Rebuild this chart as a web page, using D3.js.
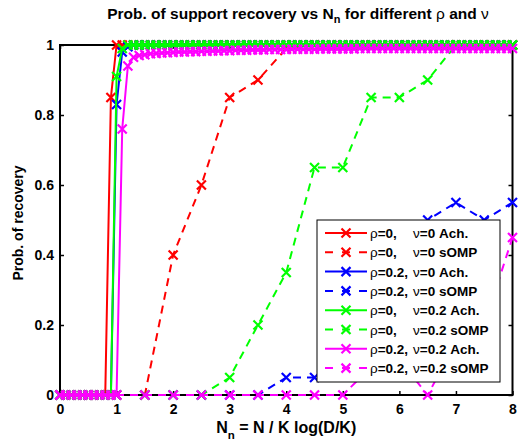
<!DOCTYPE html>
<html>
<head>
<meta charset="utf-8">
<script src="https://cdn.jsdelivr.net/npm/d3@7"></script>
<style>
  body { margin: 0; background: #fff; }
  svg { display: block; font-family: "Liberation Sans", Arial, sans-serif; }
  .tick text { font-weight: bold; font-size: 14px; fill: #000; }
  .tick line { stroke: #000; stroke-width: 1.5; }
</style>
</head>
<body>
<svg id="chart" width="518" height="443"></svg>
<script>
// x grid of the "Ach." curves (step 0.1) and of the sOMP curves (step 0.5)
const xAch = [
  0, 0.1, 0.2, 0.3, 0.4, 0.5, 0.6, 0.7, 0.8, 0.9,
  1, 1.1, 1.2, 1.3, 1.4, 1.5, 1.6, 1.7, 1.8, 1.9,
  2, 2.1, 2.2, 2.3, 2.4, 2.5, 2.6, 2.7, 2.8, 2.9,
  3, 3.1, 3.2, 3.3, 3.4, 3.5, 3.6, 3.7, 3.8, 3.9,
  4, 4.1, 4.2, 4.3, 4.4, 4.5, 4.6, 4.7, 4.8, 4.9,
  5, 5.1, 5.2, 5.3, 5.4, 5.5, 5.6, 5.7, 5.8, 5.9,
  6, 6.1, 6.2, 6.3, 6.4, 6.5, 6.6, 6.7, 6.8, 6.9,
  7, 7.1, 7.2, 7.3, 7.4, 7.5, 7.6, 7.7, 7.8, 7.9,
  8,
];
const xOmp = [0, 0.5, 1, 1.5, 2, 2.5, 3, 3.5, 4, 4.5, 5, 5.5, 6, 6.5, 7, 7.5, 8];

const redAch = [
  0, 0, 0, 0, 0, 0, 0, 0, 0, 0.85,
  1, 1, 1, 1, 1, 1, 1, 1, 1, 1,
  1, 1, 1, 1, 1, 1, 1, 1, 1, 1,
  1, 1, 1, 1, 1, 1, 1, 1, 1, 1,
  1, 1, 1, 1, 1, 1, 1, 1, 1, 1,
  1, 1, 1, 1, 1, 1, 1, 1, 1, 1,
  1, 1, 1, 1, 1, 1, 1, 1, 1, 1,
  1, 1, 1, 1, 1, 1, 1, 1, 1, 1,
  1,
];
const blueAch = [
  0, 0, 0, 0, 0, 0, 0, 0, 0, 0,
  0.83, 0.98, 0.995, 1, 1, 1, 1, 1, 1, 1,
  1, 1, 1, 1, 1, 1, 1, 1, 1, 1,
  1, 1, 1, 1, 1, 1, 1, 1, 1, 1,
  1, 1, 1, 1, 1, 1, 1, 1, 1, 1,
  1, 1, 1, 1, 1, 1, 1, 1, 1, 1,
  1, 1, 1, 1, 1, 1, 1, 1, 1, 1,
  1, 1, 1, 1, 1, 1, 1, 1, 1, 1,
  1,
];
const greenAch = [
  0, 0, 0, 0, 0, 0, 0, 0, 0, 0,
  0.91, 0.99, 1, 1, 1, 1, 1, 1, 1, 1,
  1, 1, 1, 1, 1, 1, 1, 1, 1, 1,
  1, 1, 1, 1, 1, 1, 1, 1, 1, 1,
  1, 1, 1, 1, 1, 1, 1, 1, 1, 1,
  1, 1, 1, 1, 1, 1, 1, 1, 1, 1,
  1, 1, 1, 1, 1, 1, 1, 1, 1, 1,
  1, 1, 1, 1, 1, 1, 1, 1, 1, 1,
  1,
];
const magentaAch = [
  0, 0, 0, 0, 0, 0, 0, 0, 0, 0,
  0, 0.76, 0.94, 0.965, 0.97, 0.972, 0.975, 0.976, 0.977, 0.978,
  0.979, 0.98, 0.98, 0.981, 0.981, 0.982, 0.982, 0.983, 0.983, 0.984,
  0.984, 0.985, 0.985, 0.985, 0.986, 0.986, 0.986, 0.987, 0.987, 0.987,
  0.987, 0.988, 0.988, 0.988, 0.988, 0.988, 0.989, 0.989, 0.989, 0.989,
  0.989, 0.989, 0.989, 0.99, 0.99, 0.99, 0.99, 0.99, 0.99, 0.99,
  0.99, 0.99, 0.99, 0.99, 0.99, 0.99, 0.99, 0.99, 0.99, 0.99,
  0.99, 0.99, 0.99, 0.99, 0.99, 0.99, 0.99, 0.99, 0.99, 0.99,
  0.99,
];

const redOmp = [0, 0, 0, 0, 0.4, 0.6, 0.85, 0.9, 0.99, 1, 1, 1, 1, 1, 1, 1, 1];
const blueOmp = [0, 0, 0, 0, 0, 0, 0, 0, 0.05, 0.05, 0.2, 0.3, 0.4, 0.5, 0.55, 0.5, 0.55];
const greenOmp = [0, 0, 0, 0, 0, 0, 0.05, 0.2, 0.35, 0.65, 0.65, 0.85, 0.85, 0.9, 1, 1, 1];
const magentaOmp = [0, 0, 0, 0, 0, 0, 0, 0, 0, 0, 0, 0.08, 0.1, 0, 0.15, 0.2, 0.45];

const xTicks = [0, 1, 2, 3, 4, 5, 6, 7, 8];
const yTicks = [0, 0.2, 0.4, 0.6, 0.8, 1];
const yTickLabels = ["0", "0.2", "0.4", "0.6", "0.8", "1"];

// rho part / nu part of each legend entry
const legendRho = ["=0,", "=0,", "=0.2,", "=0.2,", "=0,", "=0,", "=0.2,", "=0.2,"];
const legendNu = ["=0 Ach.", "=0 sOMP", "=0 Ach.", "=0 sOMP", "=0.2 Ach.", "=0.2 sOMP", "=0.2 Ach.", "=0.2 sOMP"];

const series = [
  { color: "#ff0000", dashed: false, xs: xAch, ys: redAch },
  { color: "#ff0000", dashed: true, xs: xOmp, ys: redOmp },
  { color: "#0000ff", dashed: false, xs: xAch, ys: blueAch },
  { color: "#0000ff", dashed: true, xs: xOmp, ys: blueOmp },
  { color: "#00ff00", dashed: false, xs: xAch, ys: greenAch },
  { color: "#00ff00", dashed: true, xs: xOmp, ys: greenOmp },
  { color: "#ff00ff", dashed: false, xs: xAch, ys: magentaAch },
  { color: "#ff00ff", dashed: true, xs: xOmp, ys: magentaOmp },
];

const svg = d3.select("#chart");
const margin = { top: 45, right: 5.5, bottom: 48, left: 60 };
const W = 518, H = 443;

const x = d3.scaleLinear().domain([0, 8]).range([margin.left, W - margin.right]);
const y = d3.scaleLinear().domain([0, 1]).range([H - margin.bottom, margin.top]);

const DASH = "8,6";
const crossPath = "M-4.5,-4.5L4.5,4.5M-4.5,4.5L4.5,-4.5";

// axes (inward ticks, drawn below the data like matlab)
svg.append("g")
  .attr("transform", `translate(0,${y(0)})`)
  .call(d3.axisBottom(x).tickValues(xTicks).tickFormat(d3.format("d")).tickSize(-4).tickPadding(9))
  .call((g) => g.select(".domain").remove());
svg.append("g")
  .attr("transform", `translate(0,${y(1)})`)
  .call(d3.axisTop(x).tickValues(xTicks).tickFormat("").tickSize(-4))
  .call((g) => g.select(".domain").remove());
svg.append("g")
  .attr("transform", `translate(${x(0)},0)`)
  .call(d3.axisLeft(y).tickValues(yTicks).tickFormat((d, i) => yTickLabels[i]).tickSize(-4).tickPadding(6))
  .call((g) => g.select(".domain").remove());
svg.append("g")
  .attr("transform", `translate(${x(8)},0)`)
  .call(d3.axisRight(y).tickValues(yTicks).tickFormat("").tickSize(-4))
  .call((g) => g.select(".domain").remove());

svg.append("rect")
  .attr("x", x(0))
  .attr("y", y(1))
  .attr("width", x(8) - x(0))
  .attr("height", y(0) - y(1))
  .attr("fill", "none")
  .attr("stroke", "#000")
  .attr("stroke-width", 2);

// curves
const line = d3.line().x((d) => x(d[0])).y((d) => y(d[1]));

series.forEach((s) => {
  const pts = s.xs.map((v, i) => [v, s.ys[i]]);
  const g = svg.append("g");
  g.append("path")
    .attr("d", line(pts))
    .attr("fill", "none")
    .attr("stroke", s.color)
    .attr("stroke-width", 2)
    .attr("stroke-dasharray", s.dashed ? DASH : null);
  g.selectAll("path.mk")
    .data(pts)
    .enter()
    .append("path")
    .attr("class", "mk")
    .attr("d", crossPath)
    .attr("transform", (d) => `translate(${x(d[0])},${y(d[1])})`)
    .attr("fill", "none")
    .attr("stroke", s.color)
    .attr("stroke-width", 2.2);
});

// legend
const legend = svg.append("g").attr("id", "legend");
legend.append("rect")
  .attr("x", 317)
  .attr("y", 220)
  .attr("width", 183)
  .attr("height", 162)
  .attr("fill", "#fff")
  .attr("stroke", "#000")
  .attr("stroke-width", 1);

series.forEach((s, i) => {
  const ly = 233 + i * 19.3;
  legend.append("line")
    .attr("x1", 325).attr("x2", 367)
    .attr("y1", ly).attr("y2", ly)
    .attr("stroke", s.color)
    .attr("stroke-width", 2)
    .attr("stroke-dasharray", s.dashed ? "8,9" : null);
  legend.append("path")
    .attr("d", crossPath)
    .attr("transform", `translate(346,${ly})`)
    .attr("fill", "none")
    .attr("stroke", s.color)
    .attr("stroke-width", 2.2);
  const t = legend.append("text")
    .attr("y", ly + 5)
    .attr("font-size", 13.5)
    .attr("font-weight", "bold");
  t.append("tspan").attr("x", 370).attr("font-weight", "normal").text("ρ");
  t.append("tspan").text(legendRho[i]);
  t.append("tspan").attr("x", 413).attr("font-weight", "normal").text("ν");
  t.append("tspan").text(legendNu[i]);
});

// title
const title = svg.append("text")
  .attr("x", 298)
  .attr("y", 19)
  .attr("text-anchor", "middle")
  .attr("font-size", 15.5)
  .attr("font-weight", "bold");
title.append("tspan").text("Prob. of support recovery vs N");
title.append("tspan").attr("dy", 4).attr("font-size", 11).text("n");
title.append("tspan").attr("dy", -4).text(" for different ");
title.append("tspan").attr("font-weight", "normal").text("ρ");
title.append("tspan").text(" and ");
title.append("tspan").attr("font-weight", "normal").text("ν");

// x label
const xl = svg.append("text")
  .attr("x", (x(0) + x(8)) / 2)
  .attr("y", 433)
  .attr("text-anchor", "middle")
  .attr("font-size", 16)
  .attr("font-weight", "bold");
xl.append("tspan").text("N");
xl.append("tspan").attr("dy", 6).attr("font-size", 11.5).text("n");
xl.append("tspan").attr("dy", -6).text(" = N / K log(D/K)");

// y label
svg.append("text")
  .attr("transform", `translate(23,223) rotate(-90)`)
  .attr("text-anchor", "middle")
  .attr("font-size", 14)
  .attr("font-weight", "bold")
  .text("Prob. of recovery");
</script>
</body>
</html>
